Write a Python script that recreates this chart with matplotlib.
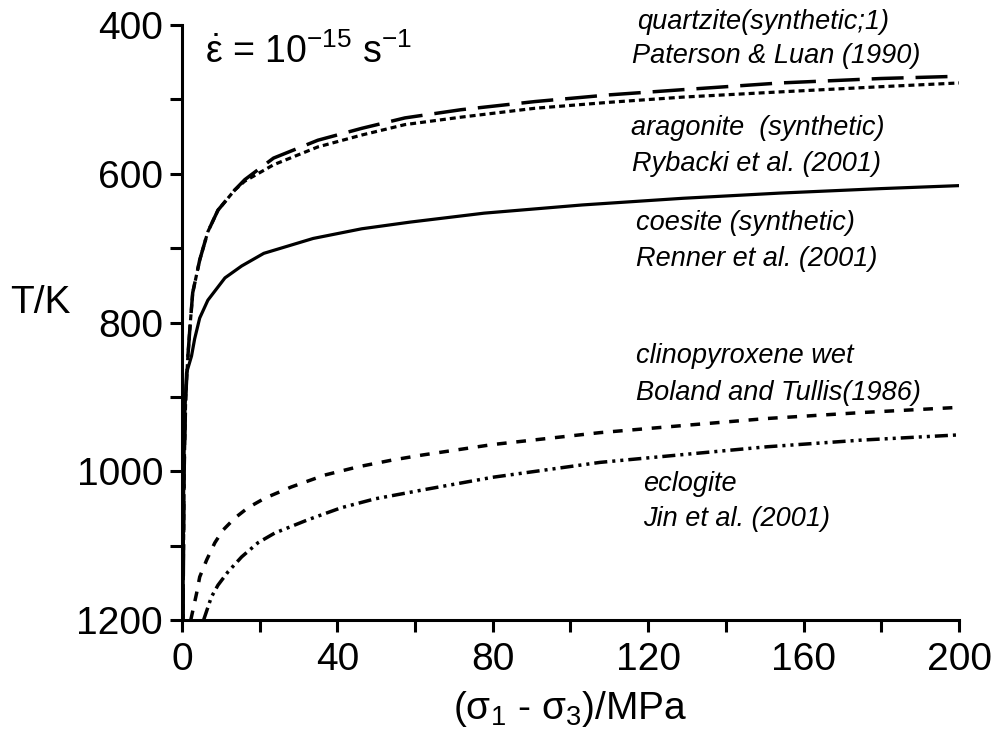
import matplotlib.pyplot as plt

plt.rcParams['font.family'] = ['Liberation Sans', 'DejaVu Sans']
plt.rcParams['mathtext.fontset'] = 'custom'
plt.rcParams['mathtext.rm'] = 'Liberation Sans'
plt.rcParams['mathtext.it'] = 'Liberation Sans'
plt.rcParams['lines.scale_dashes'] = False

# values (stress in MPa, temperature in K)
quartz_x = [0.3, 0.6, 1.0, 1.5, 2.1, 2.8, 4.6, 6.7, 9.3, 13.6, 16.2, 23.6, 35, 46.3, 57.4, 71.8,
            90.9, 110, 129, 154, 180, 200]
quartz_T = [1200, 1000, 900, 850, 806, 760, 716, 678, 649, 622, 608, 579, 555, 539, 525, 514,
            503, 494, 487, 478, 472, 469]

arag_x = [0.3, 0.6, 1.0, 1.5, 2.1, 2.8, 4.6, 6.7, 9.3, 13.6, 16.2, 23.6, 35, 46.3, 57.4, 71.8,
          90.9, 110, 129, 154, 180, 200]
arag_T = [1200, 1000, 900, 850, 806, 760, 716, 678, 649, 622, 610, 588, 564, 548, 534, 524,
          512, 504, 497, 490, 483, 478]

coes_x = [0.3, 0.5, 0.8, 1.2, 2.5, 3.3, 4.6, 6.7, 11.1, 15.4, 21.1, 33.8, 46.3, 58.8, 77.8,
          103, 129, 154, 180, 200]
coes_T = [1200, 1000, 920, 868, 845, 822, 794, 770, 740, 724, 707, 687, 674, 665, 653,
          642, 633, 626, 620, 616]

cpx_x = [2.3, 3.8, 4.6, 6.4, 8.5, 10.6, 13.6, 17, 21.4, 28.2, 36.8, 45.3, 54, 62, 80, 107.6,
         130, 150.6, 175, 200]
cpx_T = [1200, 1164, 1142, 1119, 1096, 1079, 1063, 1049, 1036, 1021, 1005, 994, 985, 978, 964, 948,
         938, 929, 921, 914]

eclo_x = [5.6, 7.6, 9.3, 11.9, 15.4, 19.6, 23.9, 32.5, 41, 49.7, 62, 80, 107.6, 130, 150.6, 175, 200]
eclo_T = [1200, 1169, 1153, 1135, 1115, 1096, 1083, 1065, 1049, 1037, 1025, 1008, 988, 977, 967, 958, 951]

fig = plt.figure(figsize=(9.99, 7.33), dpi=100)
ax = fig.add_axes([0.182, 0.154, 0.778, 0.812])

ax.plot(quartz_x, quartz_T, color='black', lw=2.5, dashes=(23, 8.6))
ax.plot(arag_x, arag_T, color='black', lw=2.3, dashes=(4.3, 2.9))
ax.plot(coes_x, coes_T, color='black', lw=2.3)
ax.plot(cpx_x, cpx_T, color='black', lw=2.5, dashes=(7, 7))
ax.plot(eclo_x, eclo_T, color='black', lw=2.5, dashes=(9.4, 3.6, 2.2, 3.6, 2.2, 3.6))

ax.set_xlim(0, 200)
ax.set_ylim(1200, 400)
ax.set_xticks([0, 40, 80, 120, 160, 200])
ax.set_xticks([20, 60, 100, 140, 180], minor=True)
ax.set_yticks([400, 600, 800, 1000, 1200])
ax.set_yticks([500, 700, 900, 1100], minor=True)

for s in ['top', 'right']:
    ax.spines[s].set_visible(False)
for s in ['left', 'bottom']:
    ax.spines[s].set_linewidth(2.2)

ax.tick_params(which='both', direction='out', length=8.5, width=2.2, labelsize=28)
ax.tick_params(axis='y', which='major', pad=5)
ax.tick_params(axis='x', which='major', pad=7)

ax.set_xlabel('(σ$_1$ - σ$_3$)/MPa', fontsize=28, labelpad=8)
fig.text(0.01, 0.587, 'T/K', fontsize=28, va='center', ha='left')

ax.text(0.03, 0.955, r'$\dot{\varepsilon}$ = 10$^{-15}$ s$^{-1}$', transform=ax.transAxes,
        fontsize=27, va='center', ha='left')

notes = [
    (637, 22, 'quartzite(synthetic;1)'),
    (632, 56, 'Paterson & Luan (1990)'),
    (631, 128, 'aragonite  (synthetic)'),
    (632, 164, 'Rybacki et al. (2001)'),
    (636, 223, 'coesite (synthetic)'),
    (636, 259, 'Renner et al. (2001)'),
    (636, 356, 'clinopyroxene wet'),
    (636, 393, 'Boland and Tullis(1986)'),
    (643, 484, 'eclogite'),
    (643, 519, 'Jin et al. (2001)'),
]
for px, py, t in notes:
    fig.text(px / 999, 1 - py / 733, t, fontsize=19.5, style='italic', va='center', ha='left')

fig.savefig('out.png', dpi=100)
